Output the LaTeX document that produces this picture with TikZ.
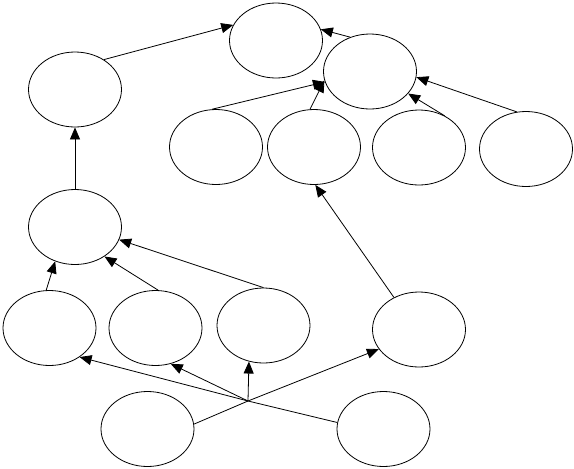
\documentclass[tikz,border=0pt]{standalone}
\usetikzlibrary{shapes.geometric,arrows.meta}
\begin{document}
\begin{tikzpicture}[x=1pt,y=1pt,
  ell/.style={draw,ellipse,line width=0.8pt,minimum width=93pt,minimum height=75pt,inner sep=0pt},
  arr/.style={line width=0.8pt,-{Triangle[length=12pt,width=10pt]}},
  ln/.style={line width=0.8pt}]
\useasboundingbox (0,0) rectangle (574,-469);
\node[ell] (T) at (276,-40.5) {};
\node[ell] (A) at (75,-89.5) {};
\node[ell] (B) at (370,-71.5) {};
\node[ell] (C1) at (216,-147) {};
\node[ell] (C2) at (314,-147) {};
\node[ell] (C3) at (419,-147.5) {};
\node[ell] (C4) at (526,-149) {};
\node[ell] (D) at (75,-227) {};
\node[ell] (E1) at (49.5,-328) {};
\node[ell] (E2) at (155.5,-328) {};
\node[ell] (E3) at (263.5,-325.5) {};
\node[ell] (E4) at (419,-329.5) {};
\node[ell] (F1) at (147.5,-429) {};
\node[ell] (F2) at (383.5,-429) {};
\coordinate (J) at (248,-401);
\draw[arr] (A.46) -- (T.160.6);
\draw[arr] (B.120.6) -- (T.14);
\draw[arr] (C1.96.5) -- (B.-167);
\draw[arr] (C2.96) -- (B.-169.3);
\draw[arr] (C3.51) -- (B.-30.8);
\draw[arr] (C4.104) -- (B.-7.6);
\draw[arr] (E4.128) -- (C2.-88.5);
\draw[arr] (D) -- (A);
\draw[arr] (E1.95.8) -- (D.-120.8);
\draw[arr] (E2.86.7) -- (D.-45.7);
\draw[arr] (E3.90) -- (D.-16);
\draw[ln] (F1.6) -- (J);
\draw[ln] (F2.172) -- (J);
\draw[arr] (J) -- (E1.-44.5);
\draw[arr] (J) -- (E2.-67.7);
\draw[arr] (J) -- (E3.-112.8);
\draw[arr] (J) -- (E4.-154.8);
\end{tikzpicture}
\end{document}
